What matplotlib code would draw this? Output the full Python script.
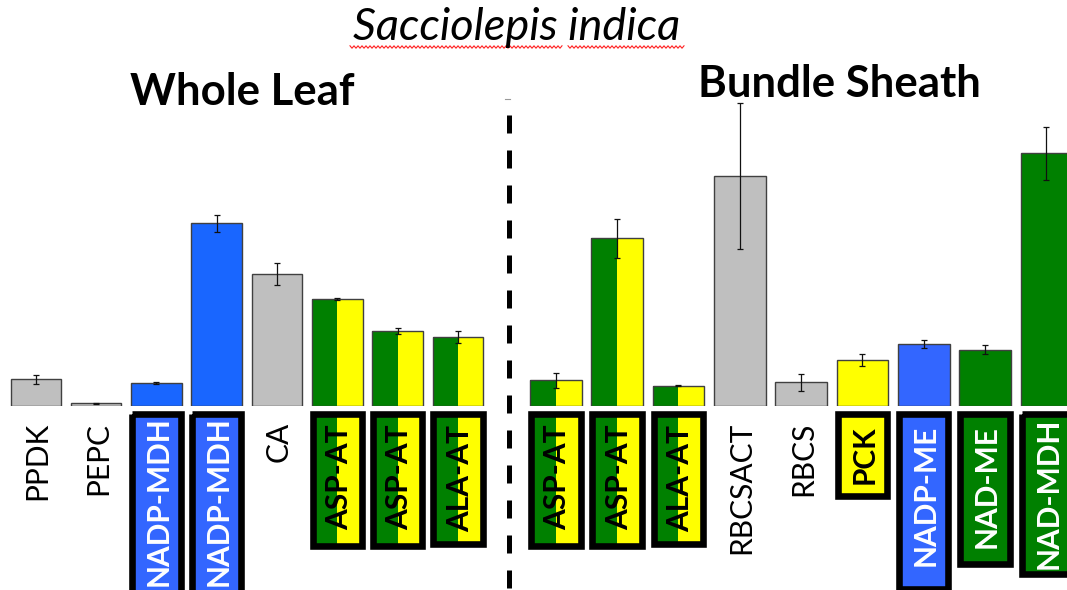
import numpy as np
import matplotlib
matplotlib.use("Agg")
import matplotlib.pyplot as plt
import matplotlib.transforms as mtransforms
from matplotlib.patches import Rectangle
from matplotlib.lines import Line2D

# ---------------- data ----------------
wl_genes = ["PPDK", "PEPC", "NADP-MDH", "NADP-MDH", "CA", "ASP-AT", "ASP-AT", "ALA-AT"]
wl_values = [0.263, 0.024, 0.224, 1.824, 1.317, 1.064, 0.750, 0.690]
wl_errors = [0.044, 0.004, 0.010, 0.085, 0.108, 0.010, 0.030, 0.062]

bs_genes = ["ASP-AT", "ASP-AT", "ALA-AT", "RBCSACT", "RBCS", "PCK", "NADP-ME", "NAD-ME", "NAD-MDH"]
bs_values = [0.257, 1.673, 0.200, 2.293, 0.233, 0.457, 0.617, 0.562, 2.527]
bs_errors = [0.075, 0.193, 0.006, 0.730, 0.088, 0.058, 0.043, 0.044, 0.265]

# ---------------- styles ----------------
GRAY, GREEN, YELLOW = "#BFBFBF", "#008000", "#FFFF00"
BLUE1, BLUE2 = "#1966FF", "#3366FF"
wl_fill = ["gray", "gray", "blue1", "blue1", "gray", "split", "split", "split"]
bs_fill = ["split", "split", "split", "gray", "gray", "yellow", "blue2", "green", "green"]
wl_tag = [None, None, "blue", "blue", None, "split", "split", "split"]
bs_tag = ["split", "split", "split", None, None, "yellow", "blue", "green", "green"]
wl_tag_bottom = [0, 0, 620, 620, 0, 549, 549, 547]
bs_tag_bottom = [549, 549, 547, 0, 0, 499, 592, 567, 577]
wl_text_top = [422, 422, 416, 416, 422, 425, 425, 425]
bs_text_top = [425, 425, 425, 422, 422, 425, 425, 425, 418]

W, H = 1067, 590
BASE, TOP = 405.7, 100.0
UNIT = 100.0  # pixels per value unit

plt.rcParams['font.family'] = ['Lato', 'DejaVu Sans']
fig = plt.figure(figsize=(W / 100, H / 100), dpi=100)
fig.patch.set_facecolor("white")

ypx = mtransforms.Affine2D().scale(1, -1 / H).translate(0, 1) + fig.transFigure

colmap = {"gray": GRAY, "blue1": BLUE1, "blue2": BLUE2, "green": GREEN, "yellow": YELLOW}
tagfill = {"blue": BLUE2, "green": GREEN, "yellow": YELLOW}
tagtext = {"blue": "white", "green": "white", "yellow": "black", "split": "black"}

LBL_FS = 21.5
BORDER = 6.6  # px
label_texts = []


def panel(x0, x1, c0, sp, genes, vals, errs, fills, tags, bottoms, ttops):
    ax = fig.add_axes([x0 / W, (H - BASE) / H, (x1 - x0) / W, (BASE - TOP) / H])
    ax.set_xlim((x0 - c0) / sp, (x1 - c0) / sp)
    ax.set_ylim(0, (BASE - TOP) / UNIT)
    ax.axis("off")
    x = np.arange(len(genes))
    w = 0.84
    for i, (v, f) in enumerate(zip(vals, fills)):
        if f == "split":
            ax.bar(i, v, width=w, color=GREEN, linewidth=0, zorder=2)
            ax.bar(i + w / 4, v, width=w / 2, color=YELLOW, linewidth=0, zorder=2)
            ax.bar(i, v, width=w, fill=False, edgecolor="#404040", linewidth=1.0, zorder=3)
        else:
            ax.bar(i, v, width=w, color=colmap[f], edgecolor="#404040", linewidth=1.0, zorder=2)
    ax.errorbar(x, vals, yerr=errs, fmt="none", ecolor="#111111", elinewidth=0.9,
                capsize=2.2, capthick=0.9, zorder=4)

    trans = mtransforms.blended_transform_factory(ax.transData, ypx)
    bw = (56 - BORDER) / sp
    lw_pt = BORDER * 72 / 100
    for i, (g, t, b, tt) in enumerate(zip(genes, tags, bottoms, ttops)):
        tr = mtransforms.offset_copy(trans, fig, x=0.36 * LBL_FS, y=0, units="points")
        if t is None:
            txt = ax.text(i, tt, g, rotation=90, rotation_mode="anchor", ha="right",
                          va="baseline", fontsize=LBL_FS, color="black", transform=tr,
                          clip_on=False)
            label_texts.append(txt)
            continue
        top_c = 411 + BORDER / 2
        bot_c = b - BORDER / 2
        if t == "split":
            ax.add_patch(Rectangle((i - bw / 2, top_c), bw / 2, bot_c - top_c,
                                   transform=trans, facecolor=GREEN, linewidth=0,
                                   clip_on=False, zorder=5))
            ax.add_patch(Rectangle((i, top_c), bw / 2, bot_c - top_c,
                                   transform=trans, facecolor=YELLOW, linewidth=0,
                                   clip_on=False, zorder=5))
        else:
            ax.add_patch(Rectangle((i - bw / 2, top_c), bw, bot_c - top_c,
                                   transform=trans, facecolor=tagfill[t], linewidth=0,
                                   clip_on=False, zorder=5))
        ax.add_patch(Rectangle((i - bw / 2, top_c), bw, bot_c - top_c,
                               transform=trans, fill=False, edgecolor="black",
                               linewidth=lw_pt, joinstyle="miter", clip_on=False, zorder=6))
        txt = ax.text(i, tt, g, rotation=90, rotation_mode="anchor", ha="right",
                      va="baseline", fontsize=LBL_FS, fontweight="bold", color=tagtext[t],
                      transform=tr, clip_on=False, zorder=7)
        label_texts.append(txt)
    return ax


panel(0, 500, 35.85, 60.31, wl_genes, wl_values, wl_errors, wl_fill, wl_tag,
      wl_tag_bottom, wl_text_top)
panel(515, 1067, 555.85, 61.32, bs_genes, bs_values, bs_errors, bs_fill, bs_tag,
      bs_tag_bottom, bs_text_top)

# keep every label fully inside the picture (shrink slightly if needed)
fig.canvas.draw()
renderer = fig.canvas.get_renderer()
for txt in label_texts:
    for _ in range(20):
        bb = txt.get_window_extent(renderer)
        if bb.y0 >= 1.5:
            break
        txt.set_fontsize(txt.get_fontsize() - 0.25)

# titles
fig.text(517 / W, 1 - 40 / H, "Sacciolepis indica", ha="center", va="baseline",
         fontsize=32.5, fontstyle="italic", color="black")
fig.text(242 / W, 1 - 105 / H, "Whole Leaf", ha="center", va="baseline",
         fontsize=31.5, fontweight="bold", color="black")
fig.text(839 / W, 1 - 97 / H, "Bundle Sheath", ha="center", va="baseline",
         fontsize=31.5, fontweight="bold", color="black")

# spell-check squiggle under the species name
for a, b in [(350, 563), (568, 685)]:
    xs = np.arange(a, b + 1, 2.0)
    ys = 47 + 1.2 * np.where(np.arange(len(xs)) % 2 == 0, -1, 1)
    fig.add_artist(Line2D(xs / W, 1 - ys / H, transform=fig.transFigure,
                          color="#FF2020", linewidth=0.8))

# dashed separator
fig.add_artist(Line2D([509 / W, 509 / W], [1 - 115 / H, 0], transform=fig.transFigure,
                      color="black", linewidth=3.6, dashes=(3.6, 3.4)))
fig.add_artist(Line2D([505 / W, 510 / W], [1 - 99 / H, 1 - 99 / H], transform=fig.transFigure,
                      color="#999999", linewidth=0.8))

fig.savefig("out.png", dpi=100, facecolor="white")
